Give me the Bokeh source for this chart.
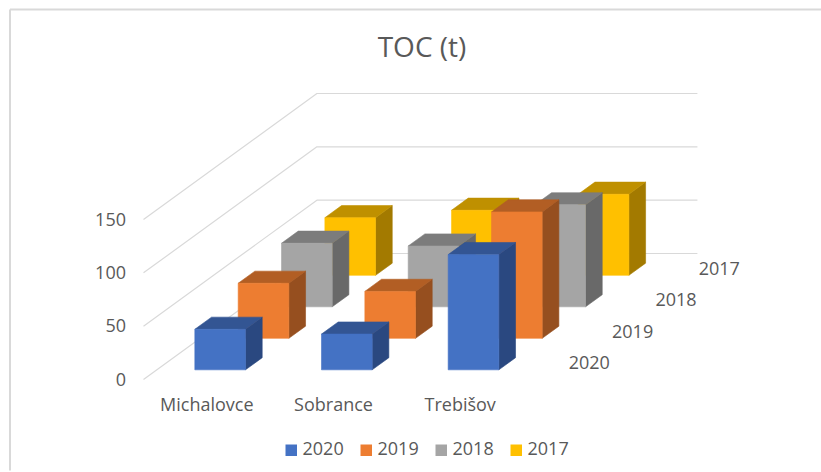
from bokeh.plotting import figure
from bokeh.models import Range1d
from bokeh.core.properties import value
from bokeh.embed import file_html
from bokeh.resources import INLINE

title = "TOC (t)"
categories = ["Michalovce", "Sobrance", "Trebišov"]
series_names = ["2020", "2019", "2018", "2017"]
values_2020 = [38, 33.5, 108]
values_2019 = [51.6, 44, 118.5]
values_2018 = [59.6, 57, 95.6]
values_2017 = [54, 61, 76]
y_ticks = [0, 50, 100, 150]

all_values = [values_2020, values_2019, values_2018, values_2017]
front = ["#4472C4", "#ED7D31", "#A5A5A5", "#FFC000"]
top = ["#335593", "#B25E24", "#7C7C7C", "#BF9000"]
side = ["#2A4880", "#964F1F", "#696969", "#A37A00"]
TXT = "#595959"
GRID = "#D9D9D9"
FONT = value("Open Sans")

# Oblique projection of (category, depth, value) onto the page
X0, Y0 = 143.0, 379.0
CAT_DX = 126.67
DEP_DX, DEP_DY = 43.35, 31.5
VAL_DY = 53.33 / 50.0
BAR_W = 0.4
BAR_D = 0.385


def proj(c, d, v):
    return X0 + CAT_DX * c + DEP_DX * d, Y0 - DEP_DY * d - VAL_DY * v


p = figure(width=821, height=472, output_backend="svg", toolbar_location=None,
           x_range=Range1d(0, 821), y_range=Range1d(472, 0),
           x_axis_type=None, y_axis_type=None, min_border=0,
           outline_line_color=None)
p.grid.visible = False
p.background_fill_color = "white"
p.border_fill_color = "white"

# Chart frame
p.line([9.5, 9.5], [470, 9], line_color=GRID, line_width=2)
p.line([9.5, 821], [9, 9], line_color=GRID, line_width=2)

# Gridlines on the side wall and the back wall
n_cat, n_dep = len(categories), len(series_names)
for t in y_ticks:
    a = proj(0, 0, t)
    b = proj(0, n_dep, t)
    c = proj(n_cat, n_dep, t)
    p.line([a[0], b[0], c[0] + 0.5], [a[1], b[1], c[1]], line_color=GRID, line_width=1.2)


def quad(pts, color):
    xs = [q[0] for q in pts]
    ys = [q[1] for q in pts]
    p.patch(xs, ys, fill_color=color, line_color=color, line_width=0.6)


# Bars, back row first
for d in range(n_dep - 1, -1, -1):
    d0 = d + (1 - BAR_D) / 2
    d1 = d0 + BAR_D
    for c in range(n_cat - 1, -1, -1):
        c0 = c + (1 - BAR_W) / 2
        c1 = c0 + BAR_W
        v = all_values[d][c]
        quad([proj(c1, d0, 0), proj(c1, d1, 0), proj(c1, d1, v), proj(c1, d0, v)], side[d])
        quad([proj(c0, d0, v), proj(c1, d0, v), proj(c1, d1, v), proj(c0, d1, v)], top[d])
        quad([proj(c0, d0, 0), proj(c1, d0, 0), proj(c1, d0, v), proj(c0, d0, v)], front[d])

# Title
p.text([421.5], [45], text=[title], text_font=FONT, text_font_size="28px", text_color=TXT,
       text_align="center", text_baseline="middle")

# Value labels
p.text([125.5] * len(y_ticks), [proj(0, 0, t)[1] - 0.5 for t in y_ticks], text=[str(t) for t in y_ticks],
       text_font=FONT, text_font_size="18px", text_color=TXT, text_align="right", text_baseline="middle")

# Category labels
p.text([proj(c + 0.5, 0, 0)[0] for c in range(n_cat)], [403] * n_cat, text=categories,
       text_font=FONT, text_font_size="18px", text_color=TXT, text_align="center", text_baseline="middle")

# Depth labels
p.text([proj(n_cat, d + 0.5, 0)[0] + 23.5 for d in range(n_dep)],
       [proj(n_cat, d + 0.5, 0)[1] - 1 for d in range(n_dep)], text=series_names,
       text_font=FONT, text_font_size="18px", text_color=TXT, text_align="left", text_baseline="middle")

# Legend
for i, name in enumerate(series_names):
    lx = 285 + 75 * i
    p.quad(left=[lx], right=[lx + 11.5], top=[444], bottom=[455.5], fill_color=front[i], line_color=None)
    p.text([lx + 17], [448], text=[name], text_font=FONT, text_font_size="18px", text_color=TXT,
           text_align="left", text_baseline="middle")

open("out.html", "w").write(file_html(p, INLINE))
